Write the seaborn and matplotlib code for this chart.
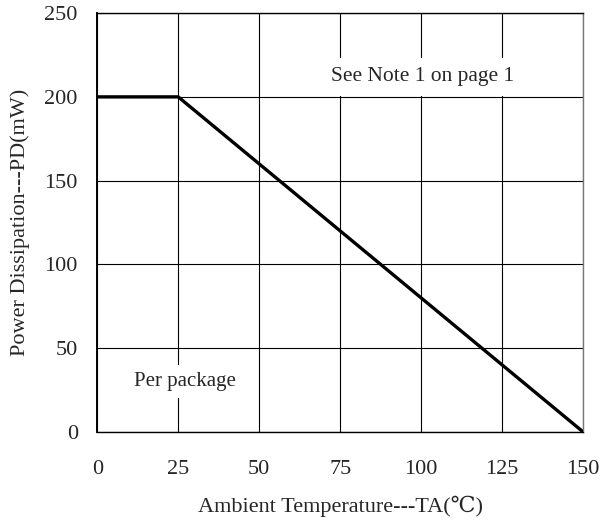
import matplotlib
matplotlib.use("Agg")
import matplotlib.pyplot as plt
import seaborn as sns
import pandas as pd

# derating curve
temp_c = [0, 25, 150]
power_mw = [200, 200, 0]
x_ticks = [0, 25, 50, 75, 100, 125, 150]
y_ticks = [0, 50, 100, 150, 200, 250]

sns.set_style("white")
plt.rcParams['font.family'] = ['Liberation Serif', 'DejaVu Serif', 'DejaVu Sans']

df = pd.DataFrame({'temp': temp_c, 'power': power_mw})

fig = plt.figure(figsize=(6, 5.24), dpi=100)
ax = fig.add_axes([0.162, 0.1756, 0.81, 0.7994])

sns.lineplot(data=df, x='temp', y='power', color='black', linewidth=2.4,
             ax=ax, zorder=5)

ax.set_xlim(0, 150)
ax.set_ylim(0, 250)
ax.set_xticks(x_ticks)
ax.set_yticks(y_ticks)
ax.grid(True, color='black', linewidth=0.8)
ax.tick_params(axis='x', length=0, labelsize=16, pad=20)
ax.tick_params(axis='y', length=0, labelsize=16, pad=14)
for s in ax.spines.values():
    s.set_color('black')
    s.set_linewidth(1.0)
ax.spines['right'].set_color('#777777')
ax.spines['left'].set_linewidth(1.4)

ax.set_xlabel('Ambient Temperature---TA(℃)', fontsize=16, labelpad=12)
ax.set_ylabel('Power Dissipation---PD(mW)', fontsize=16, labelpad=10)

ax.text(100.3, 212, 'See Note 1 on page 1', fontsize=15.5, ha='center', va='center',
        zorder=6, bbox=dict(facecolor='white', edgecolor='none', pad=7))
ax.text(27.2, 30, 'Per package', fontsize=15, ha='center', va='center',
        zorder=6, bbox=dict(facecolor='white', edgecolor='none', pad=5))

fig.savefig('out.png', dpi=100)
